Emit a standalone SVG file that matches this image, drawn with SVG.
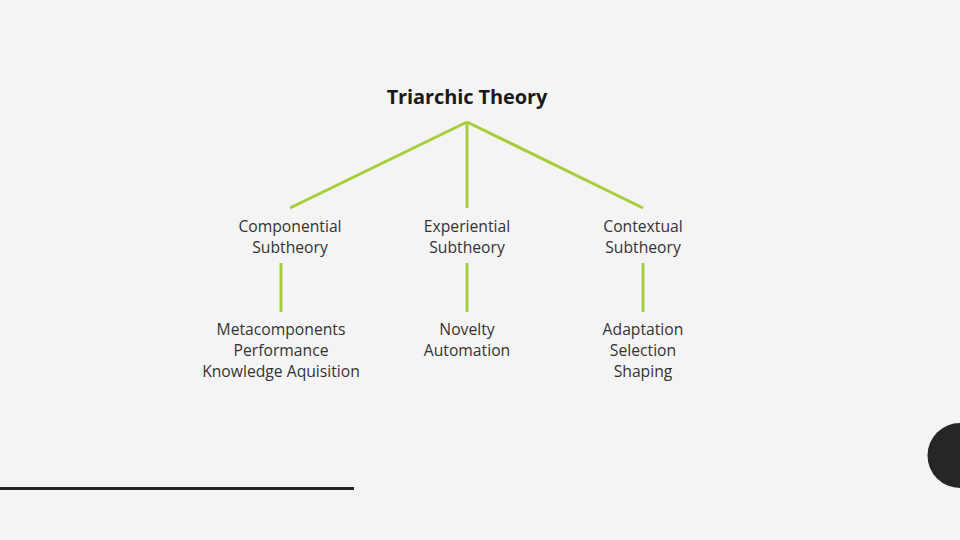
<svg xmlns="http://www.w3.org/2000/svg" width="960" height="540" viewBox="0 0 960 540">
<style>
.t{font-family:"Open Sans","Liberation Sans",sans-serif;fill:#333;text-anchor:middle}
.h{font-size:20px;font-weight:bold;fill:#1a1a1a;letter-spacing:-0.1px}
.s{font-size:15.7px}
.c line{stroke:#a6ce39;stroke-width:3;fill:none}
</style>
<rect width="960" height="540" fill="#f4f4f4"/>
<g class="c" id="connectors">
<line x1="467" y1="122" x2="290" y2="208"/>
<line x1="467" y1="122" x2="467" y2="208"/>
<line x1="467" y1="122" x2="643" y2="208"/>
<line x1="281" y1="263" x2="281" y2="312"/>
<line x1="467" y1="263" x2="467" y2="312"/>
<line x1="643" y1="263" x2="643" y2="312"/>
</g>
<g id="root"><text class="t h" x="467" y="104">Triarchic Theory</text></g>
<g id="componential"><text class="t s" x="290" y="232">Componential</text><text class="t s" x="290" y="253">Subtheory</text></g>
<g id="experiential"><text class="t s" x="467" y="232">Experiential</text><text class="t s" x="467" y="253">Subtheory</text></g>
<g id="contextual"><text class="t s" x="643" y="232">Contextual</text><text class="t s" x="643" y="253">Subtheory</text></g>
<g id="comp-items"><text class="t s" x="281" y="335">Metacomponents</text><text class="t s" x="281" y="356">Performance</text><text class="t s" x="281" y="377">Knowledge Aquisition</text></g>
<g id="exp-items"><text class="t s" x="467" y="335">Novelty</text><text class="t s" x="467" y="356">Automation</text></g>
<g id="ctx-items"><text class="t s" x="643" y="335">Adaptation</text><text class="t s" x="643" y="356">Selection</text><text class="t s" x="643" y="377">Shaping</text></g>
<line x1="0" y1="488.5" x2="354" y2="488.5" stroke="#222" stroke-width="3"/>
<circle cx="960" cy="455.5" r="32.5" fill="#262626"/>
</svg>
